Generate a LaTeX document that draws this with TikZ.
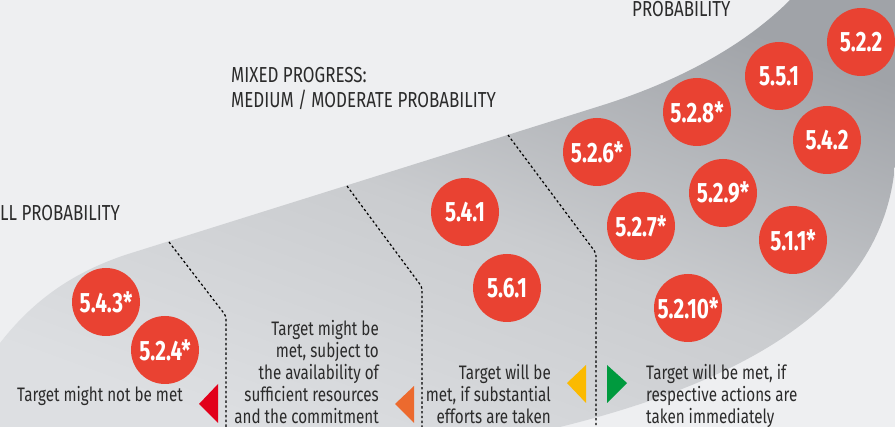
\documentclass[tikz,border=0pt]{standalone}
\usepackage{fontspec}
\setmainfont{Fira Sans}[FakeStretch=0.78]
\newfontfamily\numfont{Fira Sans}[FakeStretch=0.74]
\definecolor{bgc}{HTML}{EEEFF1}
\definecolor{wlight}{HTML}{DDDFE2}
\definecolor{wmid}{HTML}{CACCCF}
\definecolor{wdark}{HTML}{A0A3A8}
\definecolor{dotred}{HTML}{E94232}
\definecolor{txt}{HTML}{2B2B2B}
\definecolor{tred}{HTML}{E2001A}
\definecolor{torange}{HTML}{EC6A2E}
\definecolor{tyellow}{HTML}{FBBA00}
\definecolor{tgreen}{HTML}{009A3E}
\begin{document}
\begin{tikzpicture}[x=1pt,y=-1pt,
  numc/.style={circle, fill=dotred, minimum size=68pt, inner sep=0pt, text=white,
    font=\numfont\bfseries\fontsize{28}{28}\selectfont},
  head/.style={inner sep=0pt, text=txt, font=\fontsize{21.7}{25}\selectfont},
  body/.style={inner sep=0pt, text=txt, font=\fontsize{19.5}{22}\selectfont},
  sep/.style={draw=black, line width=1.2pt, dash pattern=on 2.4pt off 2.4pt, rounded corners=3pt}]
\useasboundingbox (0,0) rectangle (895,427);
\fill[bgc] (0,0) rectangle (895,427);
% wedge
\shade[top color=wdark, bottom color=wlight, middle color=wmid, shading angle=-20]
  (0,343) .. controls (35,298) and (75,272) .. (125,255) -- (600,106)
  .. controls (680,81) and (745,45) .. (790,0) -- (895,0) -- (895,165)
  .. controls (885,280) and (790,370) .. (560,427) -- (0,427) -- cycle;
% separators
\coordinate (s1a) at (169,242); \coordinate (s1b) at (226,316); \coordinate (s1c) at (226,427);
\coordinate (s2a) at (347,186); \coordinate (s2b) at (422,287); \coordinate (s2c) at (422,427);
\coordinate (s3a) at (508,135); \coordinate (s3b) at (596,253); \coordinate (s3c) at (596,427);
\draw[sep] (s1a) -- (s1b) -- (s1c);
\draw[sep] (s2a) -- (s2b) -- (s2c);
\draw[sep] (s3a) -- (s3b) -- (s3c);
% headings
\node[head, anchor=base west] (h1) at (0,221) {LL PROBABILITY};
\node[head, anchor=base west, align=left] (h2) at (231,108) {MIXED PROGRESS:\\MEDIUM / MODERATE PROBABILITY};
\node[head, anchor=base west] (h3) at (632,17) {PROBABILITY};
% circles
\node[numc] (c522) at (861,42) {5.2.2};
\node[numc] (c551) at (779,76) {5.5.1};
\node[numc] (c528) at (697,112) {5.2.8*};
\node[numc] (c542) at (827,140) {5.4.2};
\node[numc] (c526) at (597,152) {5.2.6*};
\node[numc] (c529) at (723,193) {5.2.9*};
\node[numc] (c527) at (641,226) {5.2.7*};
\node[numc] (c511) at (793,240) {5.1.1*};
\node[numc] (c5210) at (688,308) {5.2.10*};
\node[numc] (c541) at (465,212) {5.4.1};
\node[numc] (c561) at (507,288) {5.6.1};
\node[numc] (c543) at (106,302) {5.4.3*};
\node[numc] (c524) at (165,350) {5.2.4*};
% bottom texts
\node[body, anchor=base east] (t1) at (183,402) {Target might not be met};
\node[body, anchor=base east, align=right] (t2) at (379,424) {Target might be\\met, subject to\\the availability of\\sufficient resources\\and the commitment};
\node[body, anchor=base east, align=right] (t3) at (551,424) {Target will be\\met, if substantial\\efforts are taken};
\node[body, anchor=base west, align=left] (t4) at (646,424) {Target will be met, if\\respective actions are\\taken immediately};
% triangles
\fill[tred] (218,384) -- (218,423) -- (199,404) -- cycle;
\fill[torange] (414,386) -- (414,423) -- (395,404) -- cycle;
\fill[tyellow] (586,365) -- (586,403) -- (567,383) -- cycle;
\fill[tgreen] (607,365) -- (607,403) -- (627,383) -- cycle;
\end{tikzpicture}
\end{document}
